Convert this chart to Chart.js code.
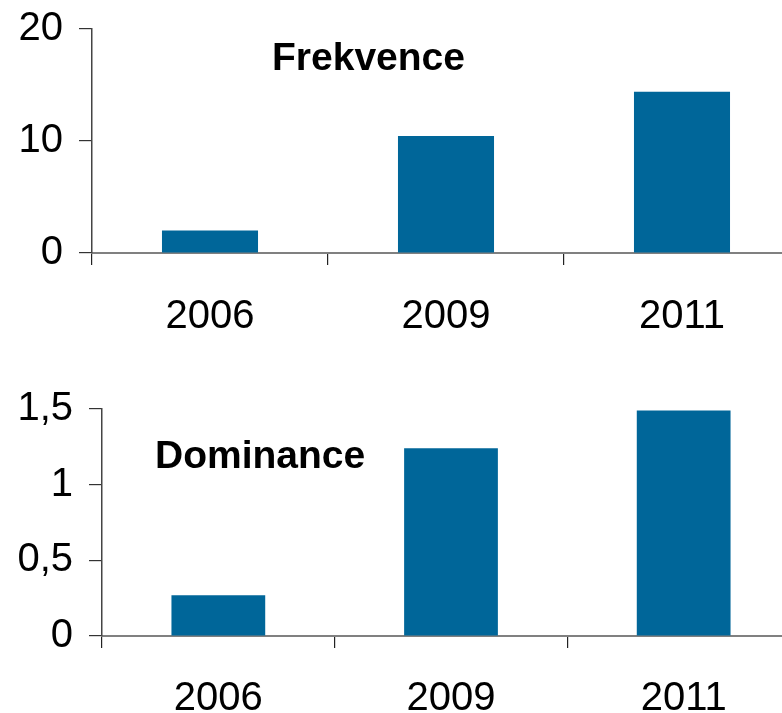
<!DOCTYPE html>
<html>
<head>
<meta charset="utf-8">
<script src="https://cdn.jsdelivr.net/npm/chart.js@4/dist/chart.umd.min.js"></script>
<style>
  html, body { margin: 0; padding: 0; background: #fff; overflow: hidden; width: 782px; height: 713px; }
  .box { position: absolute; left: 0; }
  #top { top: 0; }
  #bottom { top: 370px; }
</style>
</head>
<body>
<div class="box" id="top"><canvas id="freq" width="800" height="340"></canvas></div>
<div class="box" id="bottom"><canvas id="dom" width="800" height="343"></canvas></div>
<script>
// Survey years
const years = ['2006', '2009', '2011'];
// Frekvence per year
const frekvence = [2, 10.45, 14.4];
// Dominance per year
const dominance = [0.27, 1.24, 1.49];
// Axis ticks
const freqTicks = [0, 10, 20];
const domTicks = [0, 0.5, 1, 1.5];

const FONT = "'Liberation Sans', Arial, sans-serif";
const BAR = '#006699';

// Bold heading drawn inside the plot area
const headingPlugin = {
  id: 'heading',
  afterDraw(chart, args, opts) {
    const ctx = chart.ctx;
    ctx.save();
    ctx.font = 'bold ' + opts.size + 'px ' + FONT;
    ctx.fillStyle = '#000';
    ctx.textAlign = 'left';
    ctx.textBaseline = 'alphabetic';
    ctx.fillText(opts.text, opts.x, opts.y);
    ctx.restore();
  }
};

function makeChart(id, values, ticks, yWidth, xHeight, padTop, barPct, labelPad, heading) {
  const tmin = ticks[0], tmax = ticks[ticks.length - 1];
  return new Chart(document.getElementById(id), {
    type: 'bar',
    data: {
      labels: years,
      datasets: [{ data: values, backgroundColor: BAR, borderWidth: 0,
                   barPercentage: barPct, categoryPercentage: 1 }]
    },
    plugins: [headingPlugin],
    options: {
      responsive: false,
      devicePixelRatio: 1,
      animation: false,
      layout: { autoPadding: false, padding: { top: padTop, right: 0, left: 0, bottom: 0 } },
      plugins: {
        legend: { display: false },
        tooltip: { enabled: false },
        heading: heading
      },
      scales: {
        x: {
          afterFit(s) { s.height = xHeight; },
          grid: { display: true, drawOnChartArea: false, drawTicks: true, tickLength: 12,
                  offset: true, color: '#222', lineWidth: 1.2 },
          border: { display: true, color: '#808080', width: 2 },
          ticks: { font: { family: FONT, size: 40 }, color: '#000', padding: labelPad, maxRotation: 0 }
        },
        y: {
          min: tmin, max: tmax,
          afterFit(s) { s.width = yWidth; s.paddingTop = 0; s.paddingBottom = 0; },
          afterBuildTicks(s) { s.ticks = ticks.map(v => ({ value: v })); },
          grid: { display: true, drawOnChartArea: false, drawTicks: true, tickLength: 13,
                  color: '#333', lineWidth: 1.2 },
          border: { display: true, color: '#444', width: 1.5 },
          ticks: {
            font: { family: FONT, size: 40 }, color: '#000', padding: 16,
            callback: v => String(v).replace('.', ',')
          }
        }
      }
    }
  });
}

makeChart('freq', frekvence, freqTicks, 92, 87, 29, 0.407, 28,
  { text: 'Frekvence', size: 39, x: 272, y: 70 });
makeChart('dom', dominance, domTicks, 102, 77, 39, 0.403, 27,
  { text: 'Dominance', size: 39, x: 155, y: 98 });
</script>
</body>
</html>
